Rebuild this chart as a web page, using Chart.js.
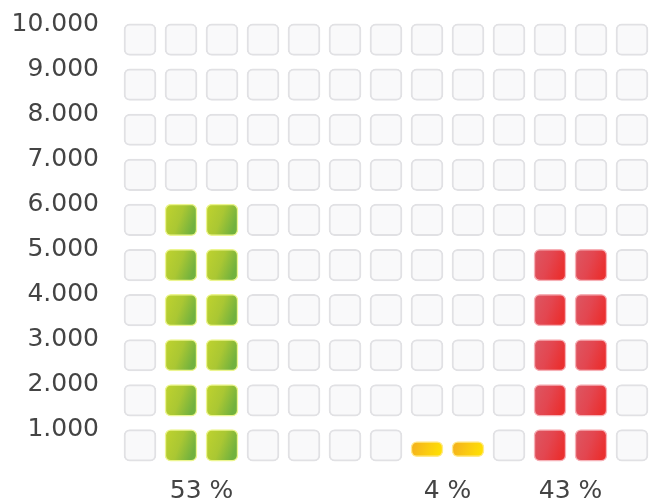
<!DOCTYPE html>
<html lang="de">

<head>
    <meta charset="UTF-8" />
    <title>Block Chart</title>
    <script src="https://cdn.jsdelivr.net/npm/chart.js"></script>
    <style>
        html, body { margin: 0; padding: 0; background: #ffffff; }
    </style>
</head>

<body>
    <canvas id="blockChart" width="649" height="499"></canvas>

    <script>
        // one entry per column of the grid
        const columnLabels = ['', '53 %', '', '', '', '', '', '4 %', '', '', '43 %', '', ''];
        const columnValues = [0, 6000, 6000, 0, 0, 0, 0, 480, 480, 0, 5000, 5000, 0];
        const columnGroups = [-1, 0, 0, -1, -1, -1, -1, 1, 1, -1, 2, 2, -1];
        const yTicks = [1000, 2000, 3000, 4000, 5000, 6000, 7000, 8000, 9000, 10000];

        const step = 1000;
        const pad = 150;
        const groupColors = [
            ['#c0d32e', '#aac733', '#72b23e'],
            ['#f3ae1f', '#fbcc10', '#ffe300'],
            ['#dc5864', '#e34650', '#ea3030']
        ];
        const groupGlow = ['#ecf58f', '#ffe98a', '#f6b0b6'];
        const font = { family: "'DejaVu Sans', sans-serif", size: 25 };

        function fmt(v) {
            return String(v).replace(/\B(?=(\d{3})+(?!\d))/g, '.');
        }

        function blockFill(ctx) {
            const colors = groupColors[columnGroups[ctx.dataIndex]];
            if (!colors) return 'rgba(0,0,0,0)';
            const xs = ctx.chart.scales.x;
            const ys = ctx.chart.scales.y;
            if (!xs || !ys || !ctx.raw) return colors[0];
            const xc = xs.getPixelForValue(ctx.dataIndex);
            const top = ys.getPixelForValue(ctx.raw[1]);
            const grad = ctx.chart.ctx.createLinearGradient(xc - 16, top, xc + 16, top + 12);
            grad.addColorStop(0, colors[0]);
            grad.addColorStop(0.55, colors[1]);
            grad.addColorStop(1, colors[2]);
            return grad;
        }

        function blockGlow(ctx) {
            return groupGlow[columnGroups[ctx.dataIndex]] || 'rgba(0,0,0,0)';
        }

        const coloredSets = [];
        const emptySets = [];
        for (let r = 0; r < yTicks.length; r++) {
            const base = r * step;
            const blocks = columnValues.map(v => {
                const rest = v - base;
                if (rest >= step) return [base + pad, base + step - pad];
                if (rest > 0) {
                    const lo = base + pad + 100;
                    return [lo, lo + rest / step * (step - 2 * pad)];
                }
                return null;
            });
            coloredSets.push({
                data: blocks,
                backgroundColor: blockFill,
                borderColor: blockGlow,
                borderWidth: 1.5,
                clip: false
            });
            emptySets.push({
                data: blocks.map(b => b ? null : [base + pad, base + step - pad]),
                backgroundColor: '#f9f9fa',
                borderColor: '#e1e1e4',
                borderWidth: 2,
                clip: false
            });
        }

        const ctx = document.getElementById('blockChart').getContext('2d');

        const chart = new Chart(ctx, {
            type: 'bar',
            data: {
                labels: columnLabels,
                datasets: [...coloredSets, ...emptySets]
            },
            options: {
                responsive: false,
                animation: false,
                layout: { padding: { top: 17, right: 17, left: 0, bottom: 0 } },
                datasets: {
                    bar: {
                        grouped: false,
                        barThickness: 32,
                        borderSkipped: false,
                        borderRadius: 6
                    }
                },
                plugins: {
                    legend: { display: false },
                    tooltip: { enabled: false }
                },
                scales: {
                    x: {
                        offset: false,
                        grid: { display: false, drawTicks: false },
                        border: { display: false },
                        ticks: {
                            autoSkip: false,
                            maxRotation: 0,
                            labelOffset: 20.5,
                            padding: 8,
                            color: '#444444',
                            font: font
                        },
                        afterFit: s => {
                            s.height = 31;
                            s.paddingLeft = 0;
                            s.paddingRight = 0;
                        }
                    },
                    y: {
                        min: 0,
                        max: 10000,
                        grid: { display: false, drawTicks: false },
                        border: { display: false },
                        afterBuildTicks: s => {
                            s.ticks = [0, ...yTicks].map(v => ({ value: v }));
                        },
                        ticks: {
                            padding: 41,
                            labelOffset: 7,
                            color: '#444444',
                            font: font,
                            callback: v => v === 0 ? '' : fmt(v)
                        },
                        afterFit: s => {
                            s.width = 140;
                            s.paddingTop = 0;
                            s.paddingBottom = 0;
                        }
                    }
                }
            }
        });
    </script>
</body>

</html>
